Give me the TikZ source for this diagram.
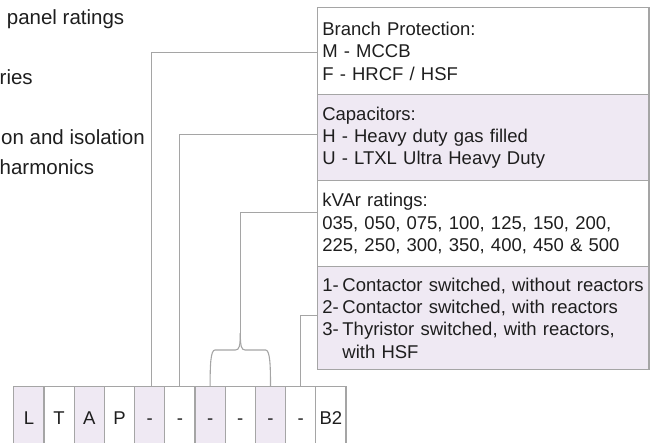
\documentclass[tikz,border=0pt]{standalone}
\usepackage{fontspec}
\setmainfont{Liberation Sans}
\definecolor{txt}{RGB}{30,30,30}
\definecolor{lav}{RGB}{239,233,243}
\definecolor{edge}{RGB}{165,165,165}
\begin{document}
\begin{tikzpicture}[x=1pt,y=-1pt,
  box/.style={draw=edge, line width=1.2pt, text=txt, anchor=north west, text width=321.6pt, inner xsep=5pt, inner ysep=0pt, align=left, font=\fontsize{18.5}{22.3}\selectfont},
  cell/.style={draw=edge, line width=1.2pt, text=txt, minimum width=30.2pt, minimum height=62pt, inner sep=0pt, text height=13.25pt, text depth=0pt, font=\fontsize{18.5}{22}\selectfont},
  conn/.style={draw=edge, line width=1.1pt},
  lbl/.style={anchor=base west, text=txt, inner sep=0pt, font=\fontsize{20.5}{24}\selectfont}]
\useasboundingbox (0,0) rectangle (661,443);
\clip (0,0) rectangle (661,443);

% left labels (cut off at the left edge)
\node[lbl] (l1) at (6.7,25) {panel ratings};
\node[lbl] (l2) at (-0.5,85) {ries};
\node[lbl] (l3) at (1,145) {on and isolation};
\node[lbl] (l4) at (-0.5,175) {harmonics};

% right description boxes
\node[box, minimum height=87pt] (branch) at (316.7,7) {Branch Protection:\\M - MCCB\\F - HRCF / HSF};
\node[box, fill=lav, minimum height=86pt] (cap) at (316.7,94) {Capacitors:\\H - Heavy duty gas filled\\U - LTXL Ultra Heavy Duty};
\node[box, minimum height=86.3pt] (kvar) at (316.7,180) {kVAr ratings:\\035, 050, 075, 100, 125, 150, 200,\\225, 250, 300, 350, 400, 450 \& 500};
\node[box, fill=lav, minimum height=102.3pt] (sw) at (316.7,266.3) {\mbox{1-\hspace{0.2em}Contactor switched, without reactors}\\\mbox{2-\hspace{0.2em}Contactor switched, with reactors}\\\mbox{3-\hspace{0.2em}Thyristor switched, with reactors,}\\\mbox{\phantom{3-\hspace{0.2em}}with HSF}};

% code cells
\node[cell, fill=lav] (b1) at (28.9,417.7) {L};
\node[cell] (b2) at (59.1,417.7) {T};
\node[cell, fill=lav] (b3) at (89.3,417.7) {A};
\node[cell] (b4) at (119.5,417.7) {P};
\node[cell, fill=lav] (b5) at (149.7,417.7) {-};
\node[cell] (b6) at (179.9,417.7) {-};
\node[cell, fill=lav] (b7) at (210.1,417.7) {-};
\node[cell] (b8) at (240.3,417.7) {-};
\node[cell, fill=lav] (b9) at (270.5,417.7) {-};
\node[cell] (b10) at (300.7,417.7) {-};
\node[cell] (b11) at (330.9,417.7) {B2};

% connectors
\draw[conn] ([xshift=2pt]b5.north) |- ([yshift=-1.5pt]branch.west);
\draw[conn] (b6.north) |- ([yshift=3pt]cap.west);
\coordinate (tip) at (240.3,333);
\draw[conn] (b7.north) .. controls (210.1,365) and (210.6,350) .. (215,350) -- (235.5,350) .. controls (239.3,350) and (240.3,346) .. (tip);
\draw[conn] (b9.north) .. controls (270.5,365) and (270,350) .. (265.6,350) -- (245.1,350) .. controls (241.3,350) and (240.3,346) .. (tip);
\draw[conn] (tip) |- ([yshift=11.6pt]kvar.west);
\draw[conn] (b10.north) |- ([yshift=2.4pt]sw.west);
\end{tikzpicture}
\end{document}
